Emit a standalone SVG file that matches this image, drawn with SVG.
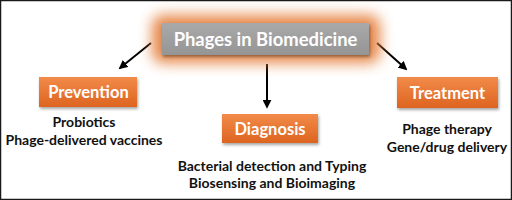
<svg xmlns="http://www.w3.org/2000/svg" width="512" height="200" viewBox="0 0 512 200">
<style>
.t{font-family:Lato,"Liberation Sans",sans-serif;font-weight:bold;text-anchor:middle}
.bx{fill:#ffffff;font-size:16.5px}
.lb{fill:#111111;font-size:14px}
.ar{stroke:#000;stroke-width:2;fill:none;marker-end:url(#ah)}
</style>
<defs>
<marker id="ah" viewBox="0 0 10 10" refX="8" refY="5" markerWidth="4.5" markerHeight="4.5" orient="auto">
<path d="M0,0 L10,5 L0,10 z" fill="#000"/>
</marker>
<linearGradient id="og" x1="0" y1="0" x2="0" y2="1">
<stop offset="0" stop-color="#f28b4a"/>
<stop offset="1" stop-color="#dd6420"/>
</linearGradient>
<linearGradient id="gg" x1="0" y1="0" x2="0" y2="1">
<stop offset="0" stop-color="#a9a9a9"/>
<stop offset="1" stop-color="#959595"/>
</linearGradient>
<filter id="glow" x="-30%" y="-80%" width="160%" height="260%">
<feGaussianBlur stdDeviation="7"/>
</filter>
<filter id="sh" x="-20%" y="-40%" width="140%" height="180%">
<feDropShadow dx="1" dy="2" stdDeviation="1.5" flood-color="#000" flood-opacity="0.35"/>
</filter>
</defs>
<rect x="0.5" y="0.5" width="511" height="199" fill="#fff" stroke="#1a1a1a" stroke-width="1.5"/>
<g id="connectors">
<line class="ar" x1="151" y1="43" x2="120" y2="68"/>
<line class="ar" x1="377" y1="43" x2="406" y2="69"/>
<line class="ar" x1="267" y1="64" x2="267" y2="107"/>
</g>
<g id="center">
<rect x="152" y="15" width="228" height="48" rx="10" fill="#e47a35" opacity="0.9" filter="url(#glow)"/>
<rect x="162" y="23" width="207" height="32" fill="url(#gg)" filter="url(#sh)"/>
<text class="t" x="265.5" y="45.5" fill="#fff" font-size="18.4">Phages in Biomedicine</text>
</g>
<g id="prevention">
<rect x="39" y="77" width="98" height="30" fill="url(#og)" filter="url(#sh)"/>
<text class="t bx" x="88.5" y="98">Prevention</text>
<text class="t lb" x="84" y="127">Probiotics</text>
<text class="t lb" x="84" y="145">Phage-delivered vaccines</text>
</g>
<g id="diagnosis">
<rect x="222" y="114" width="96" height="29" fill="url(#og)" filter="url(#sh)"/>
<text class="t bx" x="270" y="135">Diagnosis</text>
<text class="t lb" x="272" y="171">Bacterial detection and Typing</text>
<text class="t lb" x="272" y="188">Biosensing and Bioimaging</text>
</g>
<g id="treatment">
<rect x="397" y="77" width="101" height="31" fill="url(#og)" filter="url(#sh)"/>
<text class="t bx" x="447.5" y="99">Treatment</text>
<text class="t lb" x="447" y="134">Phage therapy</text>
<text class="t lb" x="447" y="152">Gene/drug delivery</text>
</g>
</svg>
